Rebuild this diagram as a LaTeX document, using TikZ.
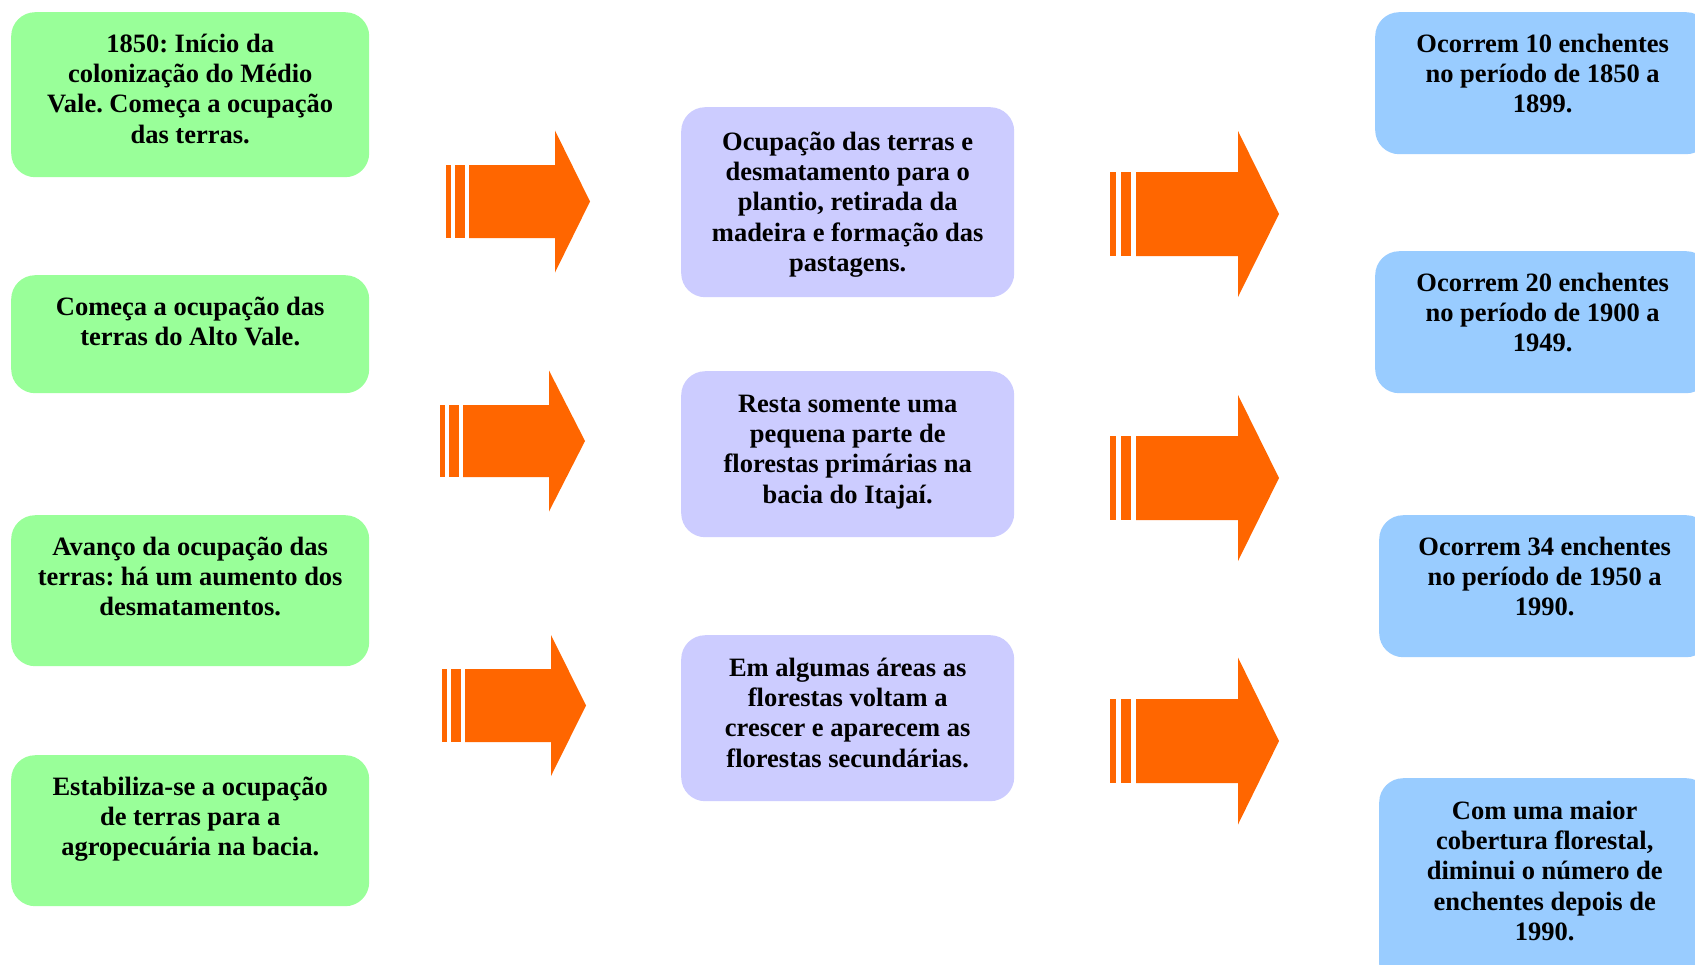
\documentclass[tikz,border=0pt]{standalone}
\usepackage{fontspec}
\setmainfont{Liberation Serif}
\frenchspacing
\definecolor{gfill}{HTML}{99FF99}
\definecolor{pfill}{HTML}{CCCCFF}
\definecolor{bfill}{HTML}{99CCFF}
\definecolor{ofill}{HTML}{FF6600}
\newcommand\tstrut{\rule{0pt}{24pt}}
\newcommand\striparrow[7]{%
  \pgfmathsetmacro\arrSa{#1+0.23*(#2-#1)}%
  \pgfmathsetmacro\arrSb{#1+0.41*(#2-#1)}%
  \pgfmathsetmacro\arrSc{#1+0.82*(#2-#1)}%
  \fill[arrowfill] ({#1},{#5-#6}) rectangle ({\arrSa},{#5+#6});
  \fill[arrowfill] ({\arrSb},{#5-#6}) rectangle ({\arrSc},{#5+#6});
  \fill[arrowfill] ({#2},{#5-#6}) -- ({#3},{#5-#6}) -- ({#3},{#5-#7}) -- ({#4},{#5})
     -- ({#3},{#5+#7}) -- ({#3},{#5+#6}) -- ({#2},{#5+#6}) -- cycle;
}
\tikzset{
  boxbase/.style={rounded corners=24pt, draw=none, inner sep=0pt, anchor=north west},
  gbox/.style={boxbase, fill=gfill},
  pbox/.style={boxbase, fill=pfill},
  bbox/.style={boxbase, fill=bfill},
  txt/.style={anchor=north, inner sep=0pt, align=center, text=black,
    font=\fontsize{26.5}{30.3}\selectfont\bfseries},
  arrowfill/.style={fill=ofill}
}
\begin{document}
\begin{tikzpicture}[x=1pt,y=-1pt]
\useasboundingbox (0,0) rectangle (1695,964);
\clip (0,0) rectangle (1695,964);
\fill[white] (0,0) rectangle (1695,964);
% green column
\node[gbox, minimum width=358pt, minimum height=165pt] (g1) at (11,12) {};
\node[gbox, minimum width=358pt, minimum height=118pt] (g2) at (11,275) {};
\node[gbox, minimum width=358pt, minimum height=151pt] (g3) at (11,515) {};
\node[gbox, minimum width=358pt, minimum height=151pt] (g4) at (11,755) {};
\node[txt] (g1t) at ([yshift=-16pt]g1.north) {\tstrut 1850: Início da\\colonização do Médio\\Vale. Começa a ocupação\\das terras.};
\node[txt] (g2t) at ([yshift=-16pt]g2.north) {\tstrut Começa a ocupação das\\terras do Alto Vale.};
\node[txt] (g3t) at ([yshift=-16pt]g3.north) {\tstrut Avanço da ocupação das\\terras: há um aumento dos\\desmatamentos.};
\node[txt] (g4t) at ([yshift=-16pt]g4.north) {\tstrut Estabiliza-se a ocupação\\de terras para a\\agropecuária na bacia.};
% purple column
\node[pbox, minimum width=333pt, minimum height=190pt] (p1) at (681,107) {};
\node[pbox, minimum width=333pt, minimum height=166pt] (p2) at (681,371) {};
\node[pbox, minimum width=333pt, minimum height=166pt] (p3) at (681,635) {};
\node[txt] (p1t) at ([yshift=-19pt]p1.north) {\tstrut Ocupação das terras e\\desmatamento para o\\plantio, retirada da\\madeira e formação das\\pastagens.};
\node[txt] (p2t) at ([yshift=-17pt]p2.north) {\tstrut Resta somente uma\\pequena parte de\\florestas primárias na\\bacia do Itajaí.};
\node[txt] (p3t) at ([yshift=-17pt]p3.north) {\tstrut Em algumas áreas as\\florestas voltam a\\crescer e aparecem as\\florestas secundárias.};
% blue column
\node[bbox, minimum width=335pt, minimum height=142pt] (b1) at (1375,12) {};
\node[bbox, minimum width=335pt, minimum height=142pt] (b2) at (1375,251) {};
\node[bbox, minimum width=331pt, minimum height=142pt] (b3) at (1379,515) {};
\node[bbox, minimum width=331pt, minimum height=210pt] (b4) at (1379,778) {};
\node[txt] (b1t) at ([yshift=-16pt]b1.north) {\tstrut Ocorrem 10 enchentes\\no período de 1850 a\\1899.};
\node[txt] (b2t) at ([yshift=-16pt]b2.north) {\tstrut Ocorrem 20 enchentes\\no período de 1900 a\\1949.};
\node[txt] (b3t) at ([yshift=-16pt]b3.north) {\tstrut Ocorrem 34 enchentes\\no período de 1950 a\\1990.};
\node[txt] (b4t) at ([yshift=-17pt]b4.north) {\tstrut Com uma maior\\cobertura florestal,\\diminui o número de\\enchentes depois de\\1990.};
% left arrows
\striparrow{446}{469}{555}{590}{201.5}{36.5}{71}
\striparrow{440}{463}{549}{585}{441}{36}{70.5}
\striparrow{442}{465}{551}{586}{705.5}{36.5}{70.5}
% right arrows
\striparrow{1110}{1136}{1238}{1279}{214}{42}{83}
\striparrow{1110}{1136}{1238}{1279}{478}{42}{83}
\striparrow{1110}{1136}{1238}{1279}{741}{42}{83.5}
\end{tikzpicture}
\end{document}
